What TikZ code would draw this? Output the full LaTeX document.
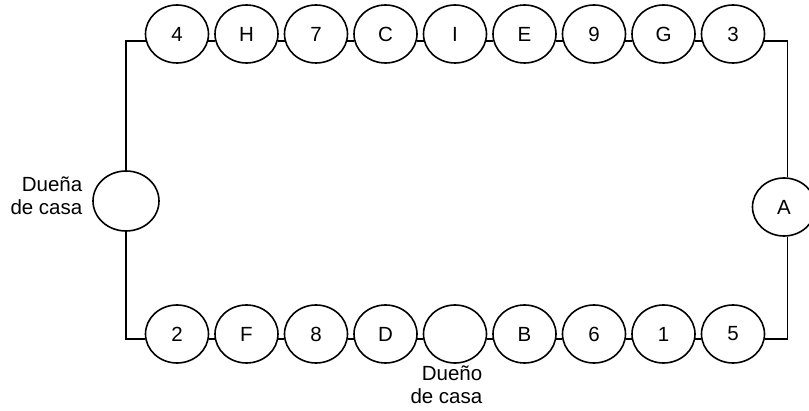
\documentclass[tikz,border=0pt]{standalone}
\usepackage{fontspec}
\setmainfont{Liberation Sans}
\usetikzlibrary{shapes.geometric}
\begin{document}
\begin{tikzpicture}[x=1pt,y=-1pt,
  bead/.style={draw,ellipse,line width=1.6pt,minimum width=63pt,minimum height=58pt,inner sep=0pt,font=\fontsize{20.5}{22.8}\selectfont},
  lbl/.style={align=right,inner sep=0pt,font=\fontsize{20.5}{22.8}\selectfont},
  wire/.style={line width=1.6pt}]
\useasboundingbox (0,0) rectangle (809,411);
% top row
\foreach \t [count=\i] in {4,H,7,C,I,E,9,G,3}
  \node[bead] (t\i) at ({177+(\i-1)*69.5},34) {\t};
% bottom row
\foreach \t [count=\i] in {2,F,8,D,{},B,6,1,5}
  \node[bead] (b\i) at ({177+(\i-1)*69.5},334) {\t};
\node[bead,minimum width=66pt,minimum height=60pt] (duena) at (126,201) {};
\node[bead] (a) at (784,207) {A};
\node[lbl,anchor=east] (lduena) at (82.5,195.5) {Dueña\\de casa};
\node[lbl,anchor=east] (lduenho) at (482.5,385) {Dueño\\de casa};
% connectors
\foreach \i [evaluate=\i as \j using int(\i+1)] in {1,...,8} {
  \draw[wire] (t\i.-13) -- (t\j.193);
  \draw[wire] (b\i.-9) -- (b\j.189);
}
\draw[wire] (t1.193) -| (duena.north);
\draw[wire] (duena.south) |- (b1.189);
\draw[wire] (t9.-13) -| (a.83);
\draw[wire] (a.-83) |- (b9.-9);
\end{tikzpicture}
\end{document}
